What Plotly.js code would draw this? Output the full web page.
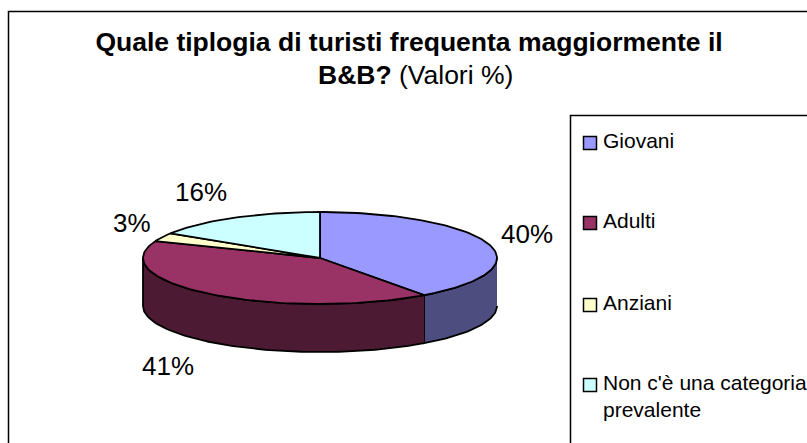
<!DOCTYPE html>
<html>
<head>
<meta charset="utf-8">
<script src="https://cdn.plot.ly/plotly-3.0.1.min.js"></script>
<style>html,body{margin:0;padding:0;background:#fff;overflow:hidden}</style>
</head>
<body>
<div id="chart" style="width:807px;height:443px"></div>
<script>
const categories = ["Giovani", "Adulti", "Anziani", "Non c'è una categoria<br>prevalente"];
const shortNames = ["Giovani", "Adulti", "Anziani", "Non c'è una categoria prevalente"];
const shares = [40, 41, 3, 16];
const topColors = ["#9999ff", "#993366", "#ffffcc", "#ccffff"];
const sideColors = ["#4d4d80", "#4d1a33", "#80805f", "#668080"];
const labelX = [527, 168, 132, 201];
const labelY = [234, 366, 223, 192];
const legendX = [590, 590, 590, 590];
const legendY = [143, 223, 305, 385];
const legendTextY = [140, 220, 302, 382];

const cx = 320, cy = 258, rx = 177, ry = 46, depth = 48;
const total = shares.reduce((a, b) => a + b, 0);
const pt = (deg, dy) => {
  const r = deg * Math.PI / 180;
  return [cx + rx * Math.sin(r), cy - ry * Math.cos(r) + dy];
};
const arc = (a, b, dy) => {
  const out = [], n = Math.max(2, Math.ceil(Math.abs(b - a) / 1.5));
  for (let i = 0; i <= n; i++) out.push(pt(a + (b - a) * i / n, dy));
  return out;
};
const traces = [];
const poly = (pts, fill, name) => traces.push({
  type: "scatter", mode: "lines", x: pts.map(p => p[0]), y: pts.map(p => p[1]),
  fill: "toself", fillcolor: fill, line: {color: "#000", width: 1.8},
  name, hoverinfo: "name", showlegend: false
});

let start = 0;
const spans = shares.map(v => {
  const s = [start, start + v / total * 360];
  start = s[1];
  return s;
});
spans.forEach((s, i) => {
  const a = Math.max(s[0], 90), b = Math.min(s[1], 270);
  if (b > a) poly(arc(a, b, 0).concat(arc(b, a, depth)), sideColors[i], shortNames[i]);
});
spans.forEach((s, i) => {
  poly([[cx, cy]].concat(arc(s[0], s[1], 0)).concat([[cx, cy]]), topColors[i], shortNames[i]);
});
traces.push({
  type: "scatter", mode: "markers", x: legendX, y: legendY, text: shortNames, hoverinfo: "text",
  marker: {symbol: "square", size: 13, color: topColors, line: {color: "#000", width: 1.5}},
  showlegend: false
});

const font = "Liberation Sans, Arial, sans-serif";
const annotations = shares.map((v, i) => ({
  x: labelX[i], y: labelY[i], xref: "x", yref: "y", text: v + "%", showarrow: false,
  font: {family: font, size: 26, color: "#000"}
})).concat(categories.map((c, i) => ({
  x: 601, y: legendTextY[i], xref: "x", yref: "y", text: c, showarrow: false,
  xanchor: "left", yanchor: i === 3 ? "top" : "middle", yshift: i === 3 ? 13 : 0, align: "left",
  font: {family: font, size: 21, color: "#000"}
}))).concat([{
  x: 415, y: 75, xref: "x", yref: "y", showarrow: false,
  text: "<b>B&amp;B?</b> (Valori %)",
  font: {family: font, size: 26.5, color: "#000"}
}]);

const layout = {
  width: 807, height: 443, margin: {l: 0, r: 0, t: 0, b: 0},
  paper_bgcolor: "#fff", plot_bgcolor: "#fff", showlegend: false,
  title: {
    text: "<b>Quale tiplogia di turisti frequenta maggiormente il</b>",
    x: 409 / 807, xanchor: "center", y: 1 - 42 / 443, yanchor: "middle",
    font: {family: font, size: 26.5, color: "#000"}
  },
  xaxis: {range: [0, 807], visible: false, fixedrange: true},
  yaxis: {range: [443, 0], visible: false, fixedrange: true},
  shapes: [
    {type: "rect", x0: 8.5, y0: 11.5, x1: 830, y1: 470, line: {color: "#000", width: 1.5}, layer: "below"},
    {type: "rect", x0: 570.5, y0: 115.5, x1: 830, y1: 470, line: {color: "#000", width: 1.5}, layer: "below"}
  ],
  annotations
};
Plotly.newPlot("chart", traces, layout, {displayModeBar: false, staticPlot: false});
</script>
</body>
</html>
